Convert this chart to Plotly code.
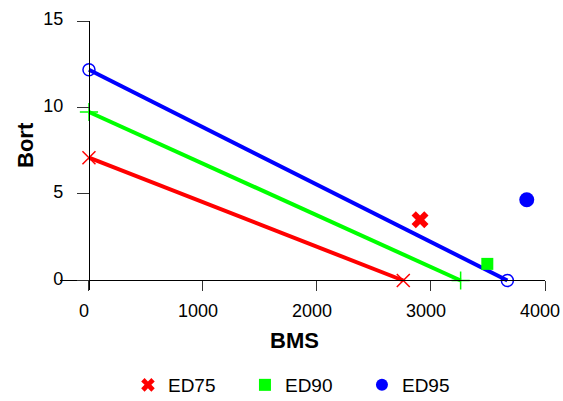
import plotly.graph_objects as go

# Lines (intercepts on axes)
ed75_line_x = [0, 2757]
ed75_line_y = [7.10, 0]
ed90_line_x = [0, 3260]
ed90_line_y = [9.74, 0]
ed95_line_x = [0, 3670]
ed95_line_y = [12.18, 0]

# Single points
ed75_pt = (2904, 3.51)
ed90_pt = (3494, 0.96)
ed95_pt = (3840, 4.67)

series_names = ["ED75", "ED90", "ED95"]
colors = ["#ff0000", "#00ff00", "#0000ff"]

x_ticks = [0, 1000, 2000, 3000, 4000]
y_ticks = [0, 5, 10, 15]
x_range = [-254, 4000]
y_range = [-0.55, 15]

FONT = "Liberation Sans, Arial, sans-serif"

fig = go.Figure()

fig.add_trace(go.Scatter(x=ed75_line_x, y=ed75_line_y, mode="lines+markers",
                         line=dict(color=colors[0], width=4),
                         marker=dict(symbol="x-thin-open", size=13, line=dict(color=colors[0], width=1.5)),
                         showlegend=False, cliponaxis=False))
fig.add_trace(go.Scatter(x=ed90_line_x, y=ed90_line_y, mode="lines+markers",
                         line=dict(color=colors[1], width=4),
                         marker=dict(symbol="cross-thin-open", size=13, line=dict(color=colors[1], width=1.5)),
                         showlegend=False, cliponaxis=False))
fig.add_trace(go.Scatter(x=ed95_line_x, y=ed95_line_y, mode="lines+markers",
                         line=dict(color=colors[2], width=4),
                         marker=dict(symbol="circle-open", size=12, line=dict(color=colors[2], width=1.5)),
                         showlegend=False, cliponaxis=False))

pts = [ed75_pt, ed90_pt, ed95_pt]
symbols = ["x", "square", "circle"]
sizes = [15, 12, 15]
for name, (px, py), c, s, sz in zip(series_names, pts, colors, symbols, sizes):
    fig.add_trace(go.Scatter(x=[px], y=[py], mode="markers", name=name,
                             marker=dict(symbol=s, size=sz, color=c, line=dict(width=0)),
                             cliponaxis=False))

fig.update_layout(
    width=563, height=401,
    margin=dict(l=60, r=18, t=21, b=111),
    paper_bgcolor="white", plot_bgcolor="white",
    font=dict(family=FONT, size=18, color="black"),
    showlegend=True,
    legend=dict(orientation="h", xref="container", yref="container",
                x=0.539, xanchor="center", y=1 - 385 / 401, yanchor="middle",
                font=dict(size=19), itemsizing="constant",
                entrywidth=72, entrywidthmode="pixels"),
    xaxis=dict(range=x_range, tickvals=x_ticks, ticktext=[str(v) for v in x_ticks],
               showgrid=False, zeroline=False, showline=True, linecolor="black", linewidth=1,
               ticks="outside", ticklen=10, tickcolor="#333", tickwidth=1,
               anchor="free", position=(0 - y_range[0]) / (y_range[1] - y_range[0]),
               ticklabelstandoff=4, ticklabelshift=-5, automargin=False,
               tickfont=dict(size=18)),
    yaxis=dict(range=y_range, tickvals=y_ticks, ticktext=[str(v) for v in y_ticks],
               showgrid=False, zeroline=False, showline=True, linecolor="black", linewidth=1,
               ticks="outside", ticklen=12, tickcolor="#333", tickwidth=1,
               anchor="free", position=(0 - x_range[0]) / (x_range[1] - x_range[0]),
               ticklabelstandoff=10, ticklabelshift=-2, automargin=False,
               tickfont=dict(size=18)),
    annotations=[
        dict(text="<b>BMS</b>", xref="paper", yref="paper", x=(294 - 60) / 485, y=(290 - 340) / 269,
             showarrow=False, font=dict(size=22), xanchor="center", yanchor="middle"),
        dict(text="<b>Bort</b>", xref="paper", yref="paper", x=(25 - 60) / 485, y=(290 - 145) / 269,
             showarrow=False, font=dict(size=22), textangle=-90, xanchor="center", yanchor="middle"),
    ],
)

fig.write_html("out.html", config={"displayModeBar": False},
               post_script="document.body.style.margin='0';document.body.style.overflow='hidden';")
